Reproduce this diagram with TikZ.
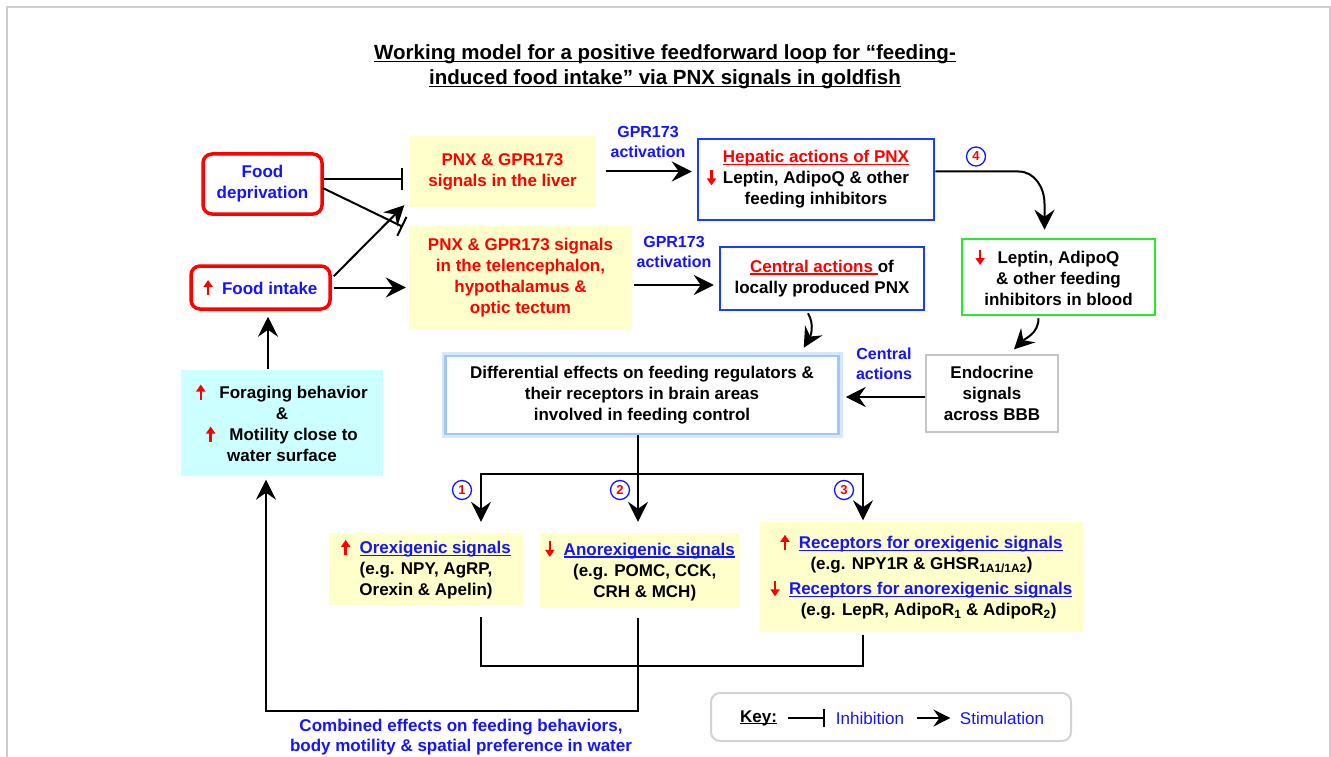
\documentclass[tikz,border=0pt]{standalone}
\usepackage{fontspec}
\setmainfont{Liberation Sans}
\usetikzlibrary{arrows.meta,calc}
\definecolor{ylw}{RGB}{255,255,204}
\definecolor{cyn}{RGB}{204,255,255}
\definecolor{bblue}{RGB}{20,20,255}
\definecolor{bxblue}{RGB}{25,60,255}
\definecolor{grn}{RGB}{40,235,40}
\definecolor{rd}{RGB}{255,0,0}
\definecolor{framec}{RGB}{205,205,205}
\newcommand{\uar}{\tikz[baseline=0pt]\draw[rd, line width=2.4pt, -{Triangle[length=7pt,width=9pt]}] (0pt,-1pt) -- (0pt,14pt);}
\newcommand{\dar}{\tikz[baseline=0pt]\draw[rd, line width=2.4pt, -{Triangle[length=7pt,width=9pt]}] (0pt,14pt) -- (0pt,-1.5pt);}
\newcommand{\ul}[1]{\setbox0\hbox{#1}\rlap{\rule[-2.2pt]{\wd0}{1.3pt}}\box0}
\newcommand{\ult}[1]{\setbox0\hbox{#1}\rlap{\rule[-3pt]{\wd0}{1.6pt}}\box0}
\begin{document}
\begin{tikzpicture}[x=1pt,y=-1pt,
  font=\fontsize{17}{21}\selectfont\bfseries,
  box/.style={align=center, inner sep=0pt},
  ybox/.style={box, fill=ylw},
  rbox/.style={box, draw=rd, line width=3.5pt, rounded corners=9pt, fill=white, text=bblue},
  bbox/.style={box, draw=bxblue, line width=2.5pt, fill=white},
  arr/.style={line width=2pt, -{Stealth[length=20pt,width=20pt,inset=7pt]}},
  inh/.style={line width=2pt, -{Bar[width=21pt,line width=2pt]}},
  plain/.style={line width=2pt},
  num/.style={circle, draw=bblue, line width=1.3pt, inner sep=0pt, minimum size=19pt, text=rd, font=\fontsize{13}{13}\selectfont\bfseries},
  lbl/.style={text=bblue, align=center, font=\fontsize{16}{20}\selectfont\bfseries}
]
\useasboundingbox (0,0) rectangle (1331,757);
\fill[white] (0,0) rectangle (1331,757);
\draw[framec, line width=1.5pt] (7,757) -- (7,7) -- (1330,7) -- (1330,757);

% title
\node[align=center, font=\fontsize{20.5}{25}\selectfont\bfseries] (title) at (665,66.5)
  {\ult{Working model for a positive feedforward loop for “feeding-}\\
   \ult{induced food intake” via PNX signals in goldfish}};

% left boxes
\node[rbox, minimum width=119, minimum height=60] (fdep) at (262.5,184) {Food\\deprivation};
\node[rbox, minimum width=139, minimum height=43] (fint) at (260.5,287.5) {\uar\ \ Food intake};

% PNX boxes
\node[ybox, minimum width=186, minimum height=71, text=rd] (liver) at (502.5,171.5)
  {PNX \& GPR173\\signals in the liver};
\node[ybox, minimum width=223, minimum height=104, text=rd] (tele) at (520.5,278)
  {PNX \& GPR173 signals\\in the telencephalon,\\hypothalamus \&\\optic tectum};

% action boxes
\node[bbox, minimum width=236, minimum height=81] (hep) at (816,179.5)
  {\textcolor{rd}{\ul{Hepatic actions of PNX}}\\\llap{\dar\hspace{7pt}}Leptin, AdipoQ \& other\\feeding inhibitors};
\node[bbox, minimum width=204, minimum height=63] (cen) at (822,278.5)
  {\textcolor{rd}{\ul{Central actions\ }}of\\locally produced PNX};
\node[box, draw=grn, line width=2.5pt, minimum width=193, minimum height=76] (grn) at (1058.5,277)
  {\llap{\dar\hspace{13pt}}Leptin, AdipoQ\\\& other feeding\\inhibitors in blood};
\node[box, draw=gray!45, line width=1.2pt, fill=white, minimum width=132, minimum height=77] (endo) at (992,393.5)
  {Endocrine\\signals\\across BBB};
\node[box, fill=white, draw={rgb,255:red,160;green,200;blue,245}, line width=2.5pt,
      preaction={draw={rgb,255:red,215;green,232;blue,252}, line width=8pt},
      minimum width=393, minimum height=78] (diff) at (642,395)
  {Differential effects on feeding regulators \&\\their receptors in brain areas\\involved in feeding control};
\node[box, fill=cyn, minimum width=202, minimum height=106] (cyan) at (282,422.5)
  {\uar\ \ \ Foraging behavior\\\&\\\uar\ \ \ Motility close to\\water surface};

% lower boxes
\node[ybox, minimum width=194, minimum height=72] (orex) at (426,569)
  {\uar\ \ \textcolor{bblue}{\ul{Orexigenic signals}}\\(e.g. NPY, AgRP,\\Orexin \& Apelin)};
\node[ybox, minimum width=200, minimum height=75] (anorex) at (640,570.5)
  {\dar\ \ \textcolor{bblue}{\ul{Anorexigenic signals}}\\\ \ (e.g. POMC, CCK,\\\ \ CRH \& MCH)};
\node[ybox, minimum width=323, minimum height=110] (recep) at (921.5,576.5)
  {\uar\ \ \textcolor{bblue}{\ul{Receptors for orexigenic signals}}\\
   (e.g. NPY1R \& GHSR\textsubscript{1A1/1A2})\\[4pt]
   \dar\ \ \textcolor{bblue}{\ul{Receptors for anorexigenic signals}}\\
   \ \ \ (e.g. LepR, AdipoR\textsubscript{1} \& AdipoR\textsubscript{2})};

% labels
\node[lbl] (gpr1) at (648,142) {GPR173\\activation};
\node[lbl] (gpr2) at (674,252) {GPR173\\activation};
\node[lbl] (cact) at (884,364) {Central\\actions};
\node[num] (n4) at (976,156.5) {4};
\node[num] (n1) at (462,490) {1};
\node[num] (n2) at (620,490) {2};
\node[num] (n3) at (844,490) {3};
\node[lbl, font=\fontsize{17}{20}\selectfont\bfseries] (comb) at (461,737)
  {Combined effects on feeding behaviors,\\body motility \& spatial preference in water};

% connectors, left
\draw[inh] ($(fdep.east)+(0,-5)$) -- ($(liver.west |- fdep.east)+(-6,-5)$);
\draw[inh] ($(fdep.east)+(-1,4)$) -- ($(tele.north west)+(-6,1)$);
\draw[arr] ($(fint.north east)+(2,12)$) -- ($(liver.south west)+(-5,-2)$);
\draw[arr] ($(fint.east)+(2,0)$) -- ($(tele.west |- fint.east)+(-3,0)$);

% activation arrows
\draw[arr] ($(liver.east)+(10,0)$) -- ($(hep.west |- liver.east)+(-5,0)$);
\draw[arr] ($(tele.east)+(2,7)$) -- ($(cen.west |- tele.east)+(-5,7)$);

% hepatic to blood
\draw[arr] ($(hep.east)+(0,-8)$) -- ($(hep.east -| grn.north)+(-40,-8)$)
  to[out=0,in=90] ($(grn.north)+(-14,-34)$) -- ($(grn.north)+(-14,-8)$);
\draw[arr] ($(grn.south)+(-20,2)$) to[out=-90,in=45] ($(endo.north)+(22,-5)$);
\draw[arr] ($(cen.south)+(-14,2)$) to[out=-60,in=60] ($(diff.north east)+(-36,-7)$);
\draw[arr] ($(endo.west)+(0,3.5)$) -- ($(diff.east |- endo.west)+(6,3.5)$);

% cyan to food intake
\draw[arr] ($(cyan.north)+(-14,0)$) -- ($(fint.south)+(7.5,6)$);

% tree
\coordinate (b1) at (481,474);
\coordinate (b2) at (638,474);
\coordinate (b3) at (863,474);
\draw[arr] ($(diff.south)+(-4,0)$) -- ($(b2 |- anorex.north)+(0,-11)$);
\draw[arr] (b2) -| ($(b1 |- orex.north)+(0,-11)$);
\draw[arr] (b2) -| ($(b3 |- recep.north)+(0,-1)$);

% bottom
\coordinate (c1) at (481,666);
\coordinate (c3) at (863,666);
\coordinate (c2) at (638,711);
\draw[plain] ($(orex.south -| c1)+(0,12)$) |- (c3) -- ($(recep.south -| c3)+(0,3)$);
\draw[arr] ($(anorex.south -| c2)+(0,10)$) -- (c2) -| ($(cyan.south)+(-16,4)$);

% key
\node[draw=gray!35, line width=2pt, rounded corners=9pt, minimum width=360, minimum height=48] (keybox) at (891,717) {};
\node (keyl) at (758.5,718) {\ul{Key:}};
\node[text=bblue, font=\fontsize{17}{20}\selectfont] (inhl) at (870,718) {Inhibition};
\node[text=bblue, font=\fontsize{17}{20}\selectfont] (stiml) at (1002,718) {Stimulation};
\draw[line width=2pt, -{Bar[width=18pt,line width=2pt]}] ($(keyl.east)+(8,0)$) -- ($(inhl.west)+(-7,0)$);
\draw[line width=2pt, -{Stealth[length=17pt,width=17pt,inset=6pt]}] ($(inhl.east)+(9,0)$) -- ($(stiml.west)+(-6,0)$);
\end{tikzpicture}
\end{document}
